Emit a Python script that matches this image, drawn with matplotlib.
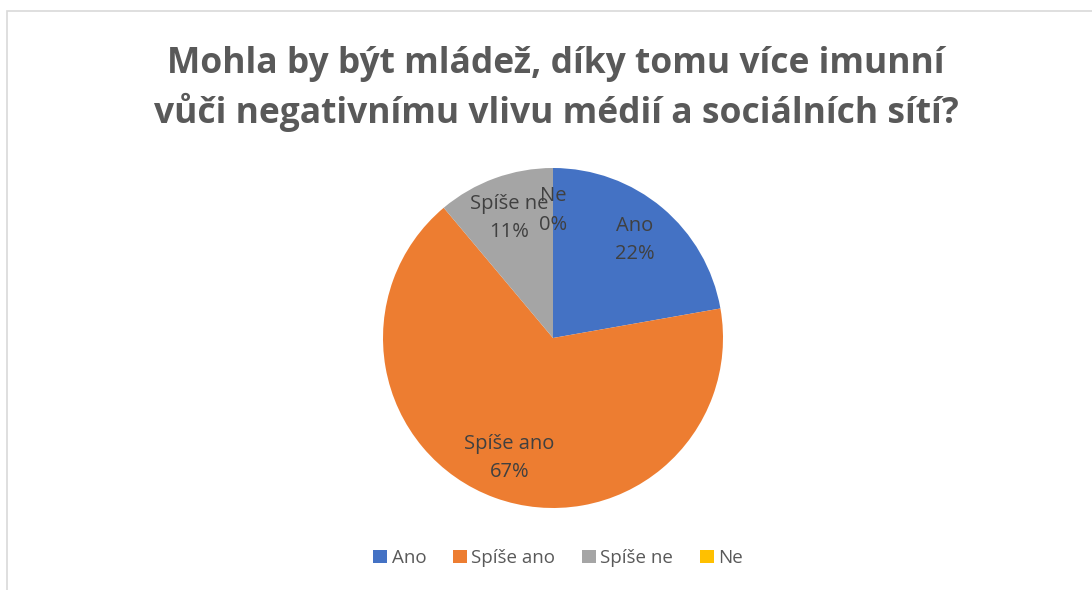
import matplotlib.pyplot as plt
from matplotlib.patches import Rectangle, Patch

categories = ['Ano', 'Spíše ano', 'Spíše ne', 'Ne']
counts = [2, 6, 1, 0]
colors = ['#4472C4', '#ED7D31', '#A5A5A5', '#FFC000']
title = 'Mohla by být mládež, díky tomu více imunní\nvůči negativnímu vlivu médií a sociálních sítí?'

plt.rcParams['font.family'] = ['Open Sans', 'DejaVu Sans']

W, H = 1092, 590
fig = plt.figure(figsize=(W / 100, H / 100), dpi=100)

# chart frame
fig.patches.append(Rectangle((7 / W, -0.1), 1.2, 1 - 11 / H + 0.1, transform=fig.transFigure,
                             fill=False, edgecolor='#D9D9D9', linewidth=1.2))

fig.text(556 / W, 1 - 89 / H, title, ha='center', va='center', fontsize=25.5,
         fontweight='bold', color='#595959', linespacing=1.38)

cx, cy, r = 553, 338, 170
ax = fig.add_axes([(cx - r) / W, 1 - (cy + r) / H, 2 * r / W, 2 * r / H])

total = sum(counts)
labels = [f'{c}\n{round(100 * v / total)}%' for c, v in zip(categories, counts)]
wedges, texts = ax.pie(counts, colors=colors, startangle=90, counterclock=False,
                       labels=labels, labeldistance=0.75,
                       textprops=dict(fontsize=14.5, color='#404040', ha='center',
                                      va='center', multialignment='center', linespacing=1.55))
for w in wedges:
    w.set_edgecolor('none')
ax.set_xlim(-1, 1)
ax.set_ylim(-1, 1)
ax.set_aspect('equal')

handles = [Patch(facecolor=c, edgecolor='none') for c in colors]
fig.legend(handles, categories, loc='center', bbox_to_anchor=(558 / W, 1 - 558 / H), ncol=4,
           frameon=False, fontsize=13.5, handlelength=0.75, handleheight=0.75,
           handletextpad=0.25, columnspacing=1.4, labelcolor='#595959')

fig.savefig('out.png', dpi=100)
